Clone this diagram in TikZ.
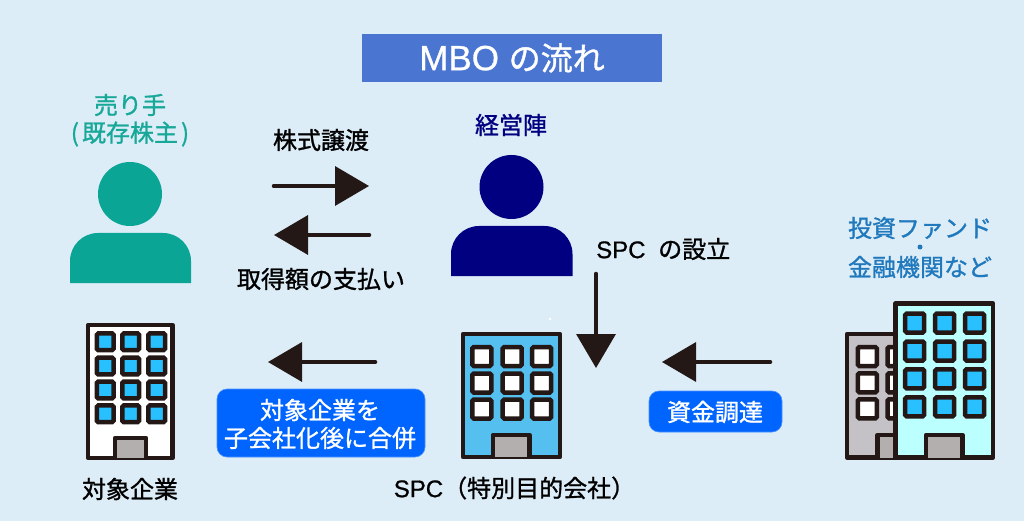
\documentclass[tikz,border=0pt]{standalone}
\usepackage{fontspec}
\usepackage{xcolor}
\usetikzlibrary{arrows.meta}
\setmainfont[FakeBold=1.2]{Noto Sans CJK JP}
\newfontfamily\latn[FakeBold=0.8]{Liberation Sans}
\definecolor{pagebg}{HTML}{DDEDF8}
\definecolor{titlebg}{HTML}{4A75D1}
\definecolor{teal}{HTML}{0BA595}
\definecolor{tealtext}{HTML}{17A898}
\definecolor{navy}{HTML}{000080}
\definecolor{fundtext}{HTML}{2079BD}
\definecolor{ink}{HTML}{231815}
\definecolor{tagbg}{HTML}{0064FF}
\definecolor{sky}{HTML}{29C0FF}
\definecolor{wallblue}{HTML}{55BFF0}
\definecolor{wallmint}{HTML}{BBFFFF}
\definecolor{wallgray}{HTML}{C4C2C6}
\definecolor{doorgray}{HTML}{B3AFAE}
\tikzset{
  lab/.style={text=black, font=\fontsize{24}{28}\selectfont, inner sep=0pt},
  flow/.style={draw=ink, line width=3.5pt, line cap=round, -{Triangle[length=34pt,width=39pt]}},
  tag/.style={fill=tagbg, draw=tagbg!70!white, line width=0.6pt, rounded corners=10pt},
  wall/.style={draw=ink, line width=4.5pt, line join=round},
  pane/.style={draw=ink, line width=4.5pt, rounded corners=1.5pt},
  doorway/.style={draw=ink, fill=doorgray, line width=4.5pt, line join=round},
}
\begin{document}
\begin{tikzpicture}[x=1pt,y=-1pt]
  \useasboundingbox (0,0) rectangle (1024,521);
  \fill[pagebg] (0,0) rectangle (1024,521);
  \node[fill=titlebg, minimum width=300pt, minimum height=48pt, inner sep=0pt, text=white, font=\fontsize{32}{36}\selectfont] (title) at (512,58) {{\latn\fontsize{35}{36}\selectfont MBO }の流れ};

  \node[lab, text=tealtext] (seller) at (130,105) {売り手};
  \node[lab, text=tealtext] (holders) at (130,134) {(\hspace{3pt}既存株主\hspace{3pt})};
  \fill[teal] (130,194) circle (32);
  \fill[teal] (70,283) [rounded corners=28pt] -- (70,233) -- (191,233) [sharp corners] -- (191,283) -- cycle;

  \node[lab, text=navy] (board) at (511,125) {経営陣};
  \fill[navy] (511.5,187) circle (32);
  \fill[navy] (451,276) [rounded corners=28pt] -- (451,226) -- (572.5,226) [sharp corners] -- (572.5,276) -- cycle;

  \node[lab] (shares) at (321,140) {株式譲渡};
  \node[lab] (payment) at (321,279) {取得額の支払い};
  \node[lab, anchor=west] (setup) at (596,249) {{\latn SPC }\hspace{6pt}の設立};
  \coordinate (sharesA) at (273.5,186);
  \coordinate (sharesB) at (369,186);
  \coordinate (payA) at (369.5,235);
  \coordinate (payB) at (274,235);
  \coordinate (setupA) at (596,273.5);
  \coordinate (setupB) at (596,368);
  \coordinate (mergeA) at (375.5,362);
  \coordinate (mergeB) at (268,362);
  \coordinate (fundA) at (770.5,362);
  \coordinate (fundB) at (662,362);
  \draw[flow] (sharesA) -- (sharesB);
  \draw[flow] (payA) -- (payB);
  \draw[flow] (setupA) -- (setupB);
  \draw[flow] (mergeA) -- (mergeB);
  \draw[flow] (fundA) -- (fundB);

  \draw[tag] (217,389) rectangle (425,457);
  \node[lab, text=white] (mergeT) at (320,410) {対象企業を};
  \node[lab, text=white] (mergeU) at (320,438) {子会社化後に合併};
  \draw[tag] (649,391) rectangle (782,432);
  \node[lab, text=white] (funding) at (715,412) {資金調達};

  \draw[wall, fill=white] (88.2,325) rectangle (172.5,458);
  \foreach \x in {105.2,130.7,156.7} \foreach \y in {341.8,366,390,413.8} {\draw[pane, fill=sky] (\x-8.4,\y-8.4) rectangle (\x+8.4,\y+8.4);}
  \draw[doorway] (115,458) |- (146,438) -- (146,458);
  \node[lab] (target) at (130,489) {対象企業};

  \draw[wall, fill=wallblue] (463,334) rectangle (560,457);
  \foreach \x in {481.8,512.2,541.7} \foreach \y in {356.5,383,409} {\draw[pane, fill=white] (\x-9.5,\y-9.5) rectangle (\x+9.5,\y+9.5);}
  \draw[doorway] (493,457) |- (529.5,435) -- (529.5,457);
  \node[lab] (spc) at (514.5,488) {{\latn SPC}（特別目的会社）};
  \fill[white] (550,319) circle (1.5);

  \node[lab, text=fundtext] (fund) at (920,228) {投資ファンド};
  \node[fill=fundtext, circle, inner sep=0pt, minimum size=5pt] (sep) at (920,247) {};
  \node[lab, text=fundtext] (banks) at (920,267) {金融機関など};
  \draw[wall, fill=wallgray] (847,334) rectangle (900,457.5);
  \foreach \x in {867.3,897} \foreach \y in {356.5,382.8,408.8} {\draw[pane, fill=white] (\x-9.5,\y-9.5) rectangle (\x+9.5,\y+9.5);}
  \draw[doorway] (877.5,457.5) |- (915,435) -- (915,457.5);
  \draw[wall, fill=wallmint] (895.5,303.5) rectangle (993,457.5);
  \foreach \x in {914.7,944.7,974.5} \foreach \y in {323,351,378.8,406.8} {\draw[pane, fill=sky] (\x-9.5,\y-9.5) rectangle (\x+9.5,\y+9.5);}
  \draw[doorway] (926,457.5) |- (962.5,435) -- (962.5,457.5);
\end{tikzpicture}
\end{document}
